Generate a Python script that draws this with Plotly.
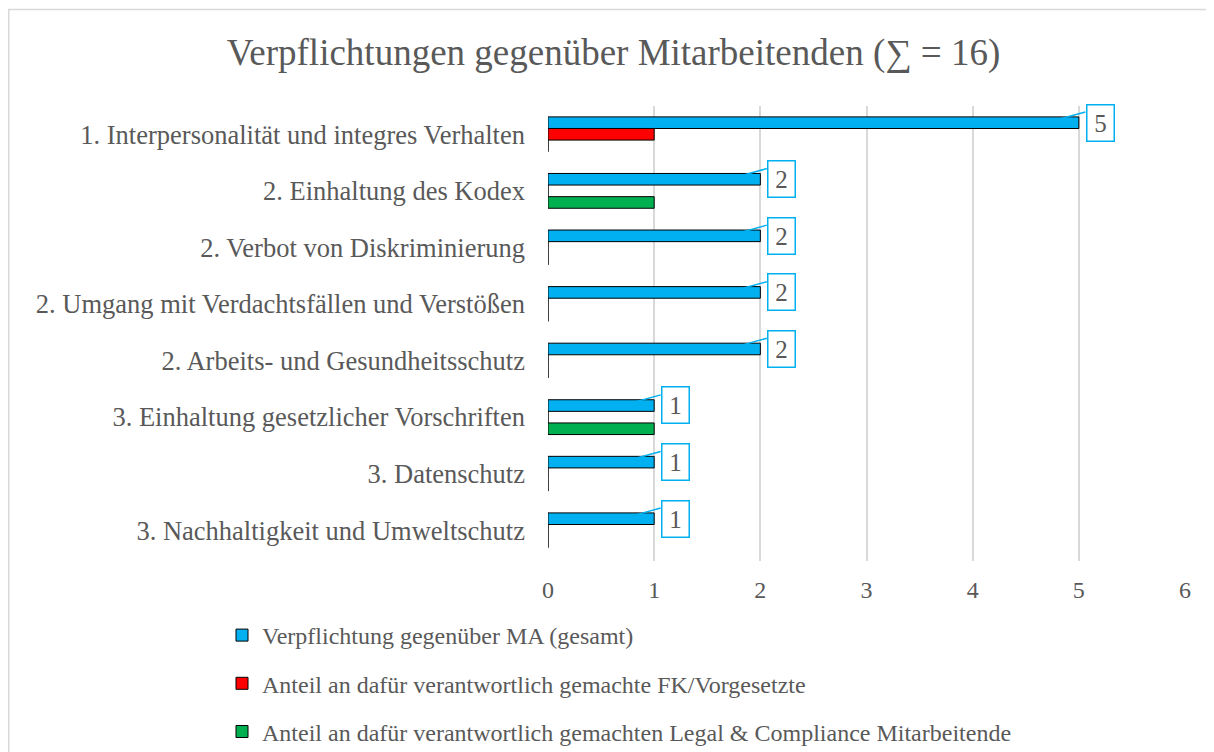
import plotly.graph_objects as go

categories = [
    "1. Interpersonalität und integres Verhalten",
    "2. Einhaltung des Kodex",
    "2. Verbot von Diskriminierung",
    "2. Umgang mit Verdachtsfällen und Verstößen",
    "2. Arbeits- und Gesundheitsschutz",
    "3. Einhaltung gesetzlicher Vorschriften",
    "3. Datenschutz",
    "3. Nachhaltigkeit und Umweltschutz",
]
gesamt = [5, 2, 2, 2, 2, 1, 1, 1]
fk = [1, 0, 0, 0, 0, 0, 0, 0]
legal = [0, 1, 0, 0, 0, 1, 0, 0]

series_names = [
    "Verpflichtung gegenüber MA (gesamt)",
    "Anteil an dafür verantwortlich gemachte FK/Vorgesetzte",
    "Anteil an dafür verantwortlich gemachten Legal & Compliance Mitarbeitende",
]
title_text = "Verpflichtungen gegenüber Mitarbeitenden (∑ = 16)"
x_ticks = [0, 1, 2, 3, 4, 5, 6]

BLUE = "#00B0F0"
RED = "#FF0000"
GREEN = "#00B050"
TXT = "#595959"
FONT = "Liberation Serif"

# plot area in figure pixels
L, R, T, B = 540, 1177, 98, 553
PW, PH = R - L, B - T

fig = go.Figure()
for name, vals, col, grp in [
    (series_names[0], gesamt, BLUE, "a"),
    (series_names[1], fk, RED, "b"),
    (series_names[2], legal, GREEN, "c"),
]:
    fig.add_trace(go.Bar(
        y=categories, x=vals, name=name, orientation="h",
        marker=dict(color=col, line=dict(color="#000000", width=1)),
        legendgroup=grp, hoverinfo="x+y",
    ))

# data label callouts for the total series
blue_offset = 11.7
for cat, v in zip(categories, gesamt):
    # leader line
    fig.add_annotation(
        x=v, y=cat, xref="x", yref="y", text=" ", font=dict(size=1),
        showarrow=True, arrowhead=0, arrowwidth=1.5, arrowcolor=BLUE,
        xshift=-21, yshift=blue_offset + 3, ax=29, ay=-8,
    )
    # label box
    fig.add_annotation(
        x=v, y=cat, xref="x", yref="y", text=str(v), showarrow=False,
        font=dict(family=FONT, size=25, color=TXT),
        bordercolor=BLUE, borderwidth=1.5, borderpad=1, bgcolor="white",
        width=24, height=33, xshift=21.5, yshift=blue_offset,
    )

fig.update_layout(
    width=1214, height=752,
    paper_bgcolor="white", plot_bgcolor="white",
    margin=dict(l=L, r=1214 - R, t=T, b=752 - B, autoexpand=False),
    barmode="group", bargap=0.385, bargroupgap=0,
    font=dict(family=FONT, color=TXT),
    title=dict(text=title_text, x=605.5 / 1214, xref="container", xanchor="center",
               y=1 - 44 / 752, yref="container", yanchor="middle",
               font=dict(family=FONT, size=37, color=TXT)),
    xaxis=dict(range=[0, 6], tickvals=x_ticks, showgrid=True, gridcolor="#D9D9D9",
               gridwidth=1.5, zeroline=False, showline=False, ticks="",
               tickfont=dict(family=FONT, size=24, color=TXT), ticklabelstandoff=12),
    yaxis=dict(autorange="reversed", showgrid=False, showline=False, ticks="",
               tickfont=dict(family=FONT, size=26.5, color=TXT), ticklabelstandoff=22),
    legend=dict(orientation="v", x=(214 - L) / PW, xanchor="left",
                y=-52 / PH, yanchor="top", traceorder="grouped",
                font=dict(family=FONT, size=24, color=TXT), tracegroupgap=14,
                bgcolor="rgba(0,0,0,0)"),
    showlegend=True,
)

fig.add_shape(type="rect", xref="paper", yref="paper",
              x0=(0.75 - L) / PW, x1=(1260 - L) / PW,
              y0=-(800 - B) / PH, y1=1 + (T - 1.5) / PH,
              line=dict(color="#D9D9D9", width=1.5), fillcolor="rgba(0,0,0,0)",
              layer="below")

fig.write_html("out.html")
